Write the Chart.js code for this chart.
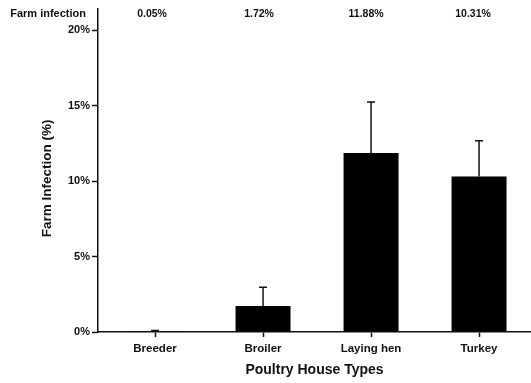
<!DOCTYPE html>
<html>
<head>
<meta charset="utf-8">
<script src="https://cdn.jsdelivr.net/npm/chart.js@4/dist/chart.umd.min.js"></script>
<style>
  html, body { margin: 0; padding: 0; background: #fff; }
  #wrap { width: 531px; height: 383px; position: relative; }
</style>
</head>
<body>
<div id="wrap"><canvas id="c"></canvas></div>
<script>
// Poultry house types and their farm infection rates (%)
const categories = ['Breeder', 'Broiler', 'Laying hen', 'Turkey'];
const infectionRates = [0.05, 1.72, 11.88, 10.31];
// Upper end of each error bar (%)
const errorTops = [0.1, 2.96, 15.26, 12.68];
// Rate labels printed along the top row
const rateLabels = ['0.05%', '1.72%', '11.88%', '10.31%'];
const yTicks = [0, 5, 10, 15, 20];

const FONT = "'Liberation Sans', Arial, sans-serif";
const INK = '#111';

// Upper-only error bars with a short cap
const errorBars = {
  id: 'errorBars',
  afterDatasetsDraw(chart) {
    const { ctx, scales: { x, y } } = chart;
    ctx.save();
    ctx.strokeStyle = INK;
    ctx.lineWidth = 1.5;
    errorTops.forEach((top, i) => {
      const px = x.getPixelForValue(i);
      const yBar = y.getPixelForValue(infectionRates[i]);
      const yTop = y.getPixelForValue(top);
      ctx.beginPath();
      ctx.moveTo(px, yBar);
      ctx.lineTo(px, yTop);
      ctx.moveTo(px - 4, yTop);
      ctx.lineTo(px + 4, yTop);
      ctx.stroke();
    });
    ctx.restore();
  }
};

// Header row ("Farm infection" + rate per house type) and the y-axis title
const annotations = {
  id: 'annotations',
  afterDraw(chart) {
    const { ctx, chartArea, scales: { x } } = chart;
    ctx.save();
    ctx.fillStyle = INK;
    ctx.textBaseline = 'middle';
    ctx.font = 'bold 11px ' + FONT;
    ctx.textAlign = 'right';
    ctx.fillText('Farm infection', 86, 14);
    ctx.font = 'bold 10.5px ' + FONT;
    ctx.textAlign = 'center';
    rateLabels.forEach((t, i) => {
      ctx.fillText(t, x.getPixelForValue(i) - 3 - i, 14);
    });
    // y-axis title
    ctx.translate(47, (chartArea.top + chartArea.bottom) / 2 + 8);
    ctx.rotate(-Math.PI / 2);
    ctx.font = 'bold 13.5px ' + FONT;
    ctx.fillText('Farm Infection (%)', 0, 0);
    ctx.restore();
  }
};

const axisGrid = (len) => ({
  display: true, drawOnChartArea: false, offset: false,
  drawTicks: true, tickLength: len, tickColor: INK, tickWidth: 1.5
});

new Chart(document.getElementById('c'), {
  type: 'bar',
  data: {
    datasets: [{
      data: infectionRates.map((v, i) => ({ x: i, y: v })),
      backgroundColor: '#000',
      borderWidth: 0,
      barPercentage: 0.509,
      categoryPercentage: 1
    }]
  },
  options: {
    responsive: true,
    maintainAspectRatio: false,
    animation: false,
    layout: { padding: { top: 7, right: 0, left: 0, bottom: 0 } },
    plugins: { legend: { display: false }, tooltip: { enabled: false } },
    scales: {
      x: {
        type: 'linear',
        offset: false,
        min: -0.528,
        max: 3.481,
        afterBuildTicks(scale) { scale.ticks = categories.map((_, i) => ({ value: i })); },
        grid: axisGrid(5),
        border: { display: true, color: INK, width: 1.5 },
        ticks: {
          color: INK, font: { family: FONT, size: 11.5, weight: 'bold' }, padding: 5,
          autoSkip: false, maxRotation: 0,
          callback: v => categories[v]
        },
        title: {
          display: true, text: 'Poultry House Types', color: INK,
          font: { family: FONT, size: 14, weight: 'bold' }, padding: { top: 5 }
        },
        afterFit(scale) { scale.height = 51; }
      },
      y: {
        min: 0,
        max: 21.45,
        afterBuildTicks(scale) { scale.ticks = yTicks.map(v => ({ value: v })); },
        grid: axisGrid(6),
        border: { display: true, color: INK, width: 1.5 },
        ticks: {
          color: INK, font: { family: FONT, size: 11, weight: 'bold' }, padding: 2,
          callback: v => v + '%'
        },
        afterFit(scale) { scale.width = 98; }
      }
    }
  },
  plugins: [errorBars, annotations]
});
</script>
</body>
</html>
